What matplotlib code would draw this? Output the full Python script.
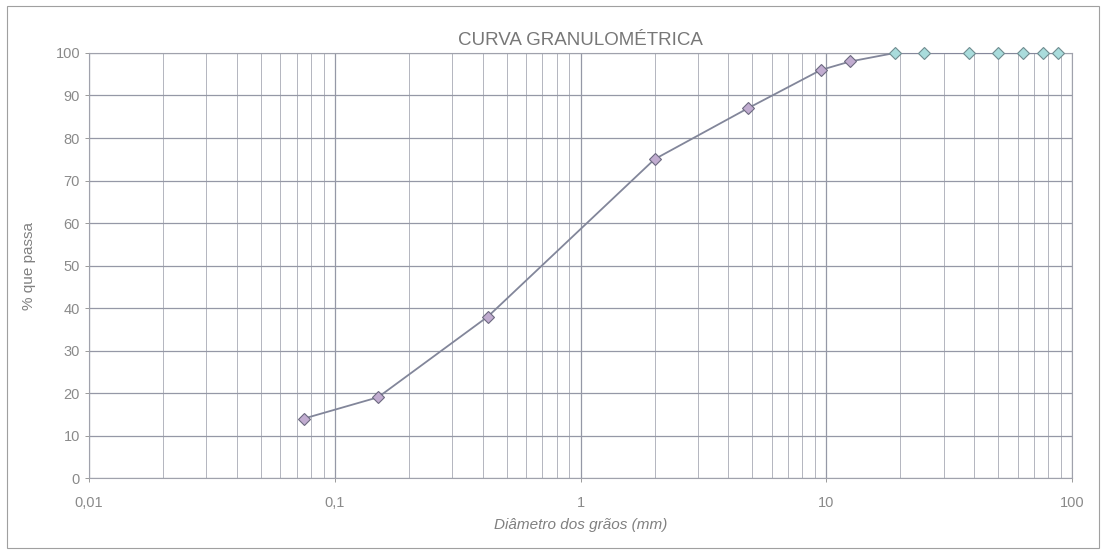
import matplotlib
matplotlib.use("Agg")
import matplotlib.pyplot as plt
from matplotlib.ticker import FixedLocator, FixedFormatter, LogLocator, NullFormatter
from matplotlib.patches import Rectangle

plt.rcParams['font.family'] = ['Liberation Sans', 'DejaVu Sans']

# sieve openings (mm) and percent passing
diametro = [0.075, 0.15, 0.42, 2.0, 4.8, 9.5, 12.5, 19, 25, 38, 50, 63, 76, 88]
passa = [14, 19, 38, 75, 87, 96, 98, 100, 100, 100, 100, 100, 100, 100]
n_fino = 7  # first points drawn with the purple marker

x_ticks = [0.01, 0.1, 1, 10, 100]
x_labels = ['0,01', '0,1', '1', '10', '100']
y_ticks = list(range(0, 101, 10))

fig = plt.figure(figsize=(11.06, 5.52), dpi=100)
ax = fig.add_axes([0.0805, 0.134, 0.8888, 0.770])

ax.set_xscale('log')
ax.set_xlim(0.01, 100)
ax.set_ylim(0, 100)

ax.xaxis.set_major_locator(FixedLocator(x_ticks))
ax.xaxis.set_major_formatter(FixedFormatter(x_labels))
ax.xaxis.set_minor_locator(LogLocator(base=10, subs=range(2, 10)))
ax.xaxis.set_minor_formatter(NullFormatter())
ax.set_yticks(y_ticks)

ax.grid(which='major', axis='both', color='#9598a6', linewidth=0.9)
ax.grid(which='minor', axis='x', color='#b3b5bf', linewidth=0.7)
ax.set_axisbelow(True)

for s in ax.spines.values():
    s.set_color('#a0a2ac')
    s.set_linewidth(0.8)

ax.tick_params(axis='both', which='both', colors='#8a8a8a', labelsize=10.5,
               length=3, width=0.6)
ax.tick_params(axis='x', which='minor', length=0)
ax.tick_params(axis='x', pad=10)

ax.plot(diametro, passa, color='#82869a', linewidth=1.3, zorder=3)
ax.plot(diametro[:n_fino], passa[:n_fino], linestyle='none', marker='D',
        markersize=6, markerfacecolor='#c1acd0', markeredgecolor='#6d6a80',
        markeredgewidth=0.8, zorder=4)
ax.plot(diametro[n_fino:], passa[n_fino:], linestyle='none', marker='D',
        markersize=6, markerfacecolor='#a9dcdc', markeredgecolor='#6f8c90',
        markeredgewidth=0.8, zorder=4, clip_on=False)

ax.set_title('CURVA GRANULOMÉTRICA', fontsize=13.5, color='#777777', pad=6)
ax.set_xlabel('Diâmetro dos grãos (mm)', fontsize=11, color='#808080',
              style='italic', labelpad=6)
ax.set_ylabel('% que passa', fontsize=11, color='#808080', labelpad=14)

# outer chart frame
fig.patches.append(Rectangle((0.006, 0.008), 0.988, 0.982, transform=fig.transFigure,
                             fill=False, edgecolor='#a0a0a0', linewidth=0.8))

fig.savefig('out.png', dpi=100, facecolor='white')
